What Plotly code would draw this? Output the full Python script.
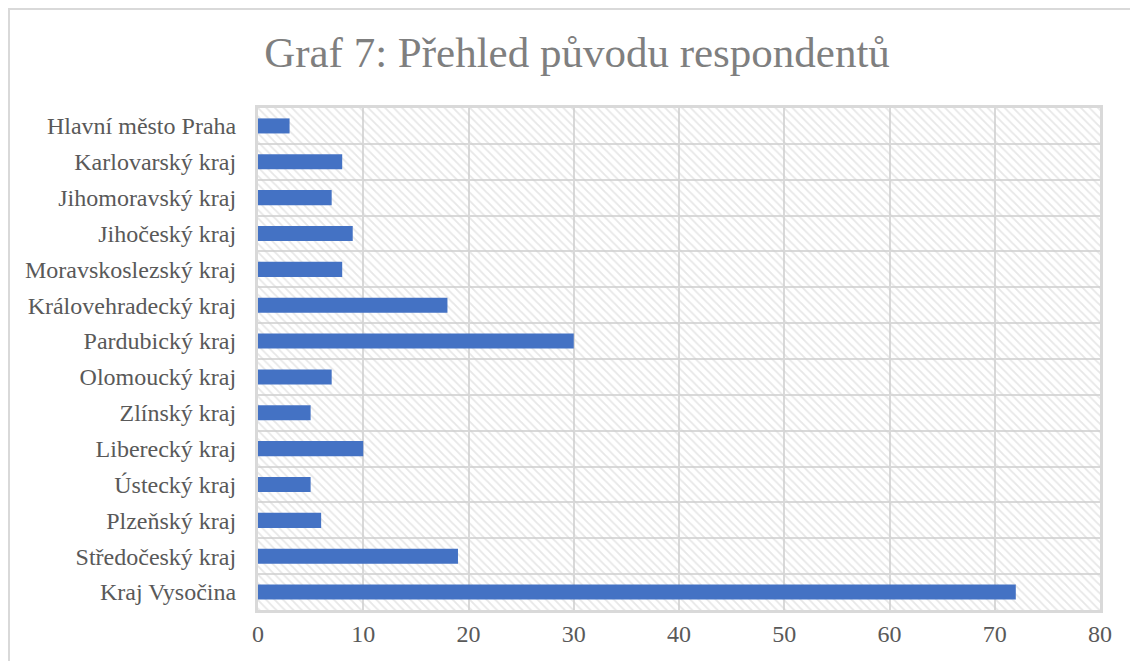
import plotly.graph_objects as go

categories = ["Kraj Vysočina", "Středočeský kraj", "Plzeňský kraj", "Ústecký kraj",
              "Liberecký kraj", "Zlínský kraj", "Olomoucký kraj", "Pardubický kraj",
              "Královehradecký kraj", "Moravskoslezský kraj", "Jihočeský kraj",
              "Jihomoravský kraj", "Karlovarský kraj", "Hlavní město Praha"]
values = [72, 19, 6, 5, 10, 5, 7, 30, 18, 8, 9, 7, 8, 3]
x_ticks = [0, 10, 20, 30, 40, 50, 60, 70, 80]
axis_max = 80

fig = go.Figure()

# hatched plot-area background
fig.add_trace(go.Bar(
    y=categories, x=[axis_max] * len(categories), orientation="h",
    width=1, hoverinfo="skip", showlegend=False,
    marker=dict(color="rgba(0,0,0,0)", line=dict(width=0),
                pattern=dict(shape="\\", fgcolor="#cfcfcf", bgcolor="rgba(0,0,0,0)",
                             size=6, solidity=0.3)),
))

fig.add_trace(go.Bar(
    y=categories, x=values, orientation="h",
    marker=dict(color="#4472C4", line=dict(width=0)),
    width=0.42, showlegend=False,
))

font_family = "Liberation Serif, Times New Roman, serif"

fig.update_layout(
    width=1138, height=661,
    margin=dict(l=250, r=46, t=100, b=59),
    paper_bgcolor="white", plot_bgcolor="white",
    barmode="overlay",
    title=dict(text="Graf 7: Přehled původu respondentů", x=0.5, xanchor="center",
               y=0.933, yanchor="middle",
               font=dict(family=font_family, size=43, color="#7f7f7f")),
    font=dict(family=font_family, color="#595959"),
    xaxis=dict(range=[0, axis_max], tickvals=x_ticks, showgrid=True,
               gridcolor="#d9d9d9", gridwidth=2, zeroline=False,
               showline=True, linecolor="#d9d9d9", linewidth=3, mirror=True,
               tickfont=dict(size=24, color="#595959"), ticks="", ticklen=0),
    yaxis=dict(categoryorder="array", categoryarray=categories,
               tickson="boundaries", showgrid=True, gridcolor="#d9d9d9", gridwidth=2,
               showline=True, linecolor="#d9d9d9", linewidth=3, mirror=True,
               tickfont=dict(size=24, color="#595959"), ticks="", ticklen=0,
               ticklabelstandoff=14,
               range=[-0.5, len(categories) - 0.5]),
    shapes=[dict(type="rect", xref="paper", yref="paper",
                 x0=-0.2957, x1=1.08, y0=-0.2, y1=1.197,
                 line=dict(color="#d9d9d9", width=2), fillcolor="rgba(0,0,0,0)",
                 layer="below")],
)

fig.write_html("out.html")
